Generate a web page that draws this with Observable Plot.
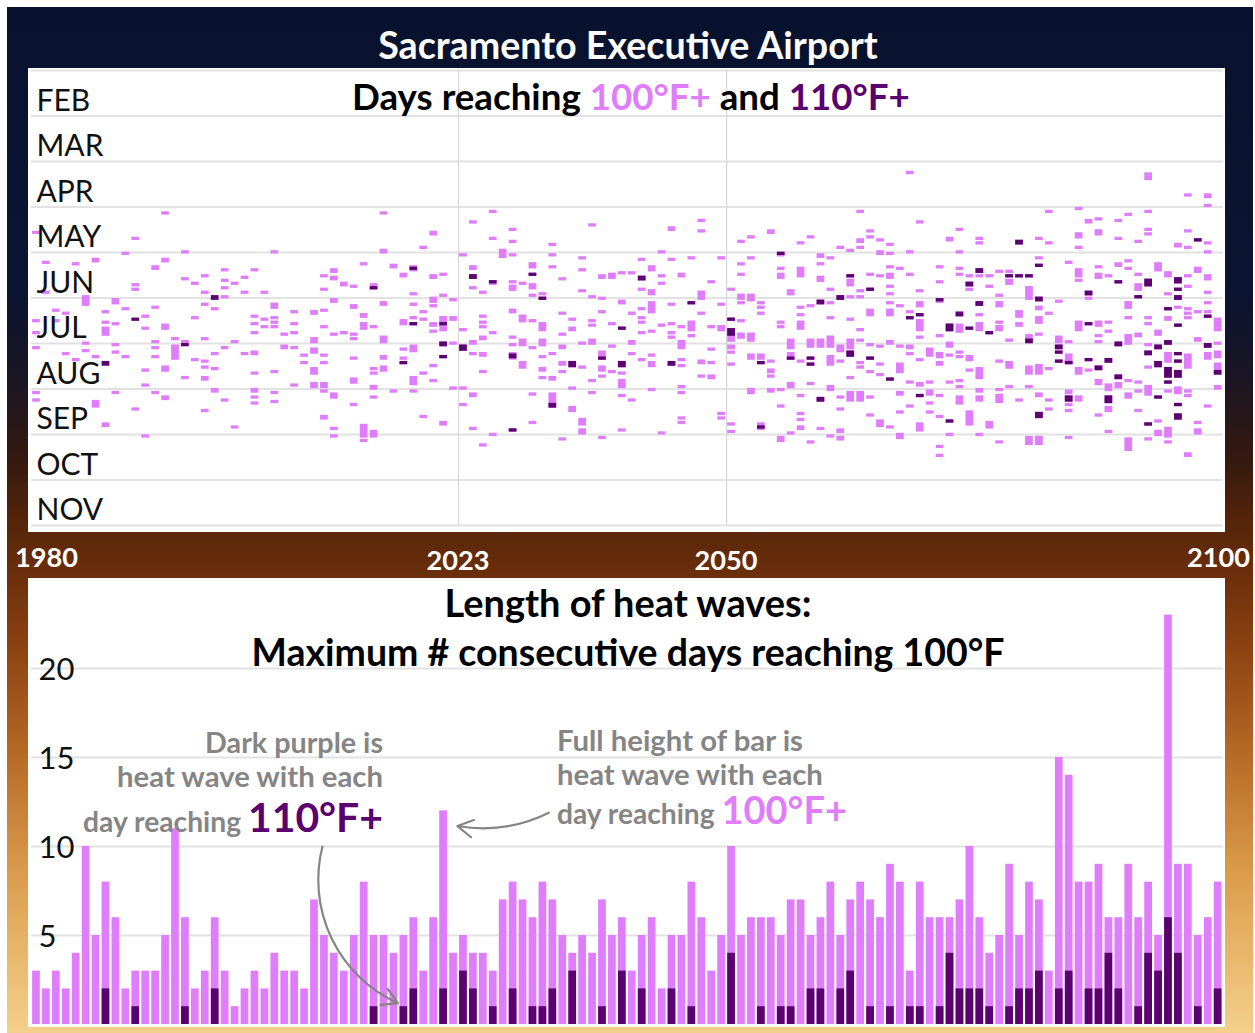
<!DOCTYPE html>
<html><head><meta charset="utf-8">
<script src="https://cdn.jsdelivr.net/npm/d3@7"></script>
<script src="https://cdn.jsdelivr.net/npm/@observablehq/plot@0.6"></script>
<style>
body{margin:0;background:#fff;}
#page{position:relative;width:1255px;height:1033px;overflow:hidden;background:#fff;}
#frame{position:absolute;left:7px;top:7px;width:1246px;height:1026px;
 background:linear-gradient(to bottom,#08112e 0%,#0b1430 28%,#1a1624 36%,#34190f 44%,#55240a 50%,#6e300b 56%,#8f4412 63%,#b86a26 73%,#dc9e4e 85%,#f4d08a 100%);}
#top{position:absolute;left:28px;top:68px;}
#bottom{position:absolute;left:28px;top:578px;}
.lbl{position:absolute;white-space:nowrap;line-height:0.85;}
.lbl span{line-height:0.7;}
</style></head>
<body><div id="page"><div id="frame"></div><div id="top"></div><div id="bottom"></div></div>
<script>
const FONT = "Lato, 'Open Sans', sans-serif";
const PINK = "#e07dfd", DARK = "#5b006f", GRAY = "#858585";

// ---------- bottom panel: longest run of consecutive days (1980..2099) ----------
const firstYear = 1980;
const maxRun100 = [3,2,3,2,4,10,5,8,6,2,3,3,3,5,11,6,2,3,6,3,1,2,3,2,4,3,3,2,7,5,
  4,3,5,8,5,5,4,5,6,3,6,12,4,5,4,4,3,7,8,7,6,8,7,5,4,5,4,7,5,6,
  3,5,6,2,5,5,8,6,3,5,10,5,6,6,6,5,7,7,5,6,8,5,7,8,7,6,9,8,3,8,
  6,6,6,7,10,6,4,5,9,5,8,7,3,15,14,8,8,9,6,6,9,6,8,5,23,9,9,5,6,8];
const maxRun110 = [0,0,0,0,0,0,0,2,0,0,1,0,0,0,0,1,0,0,2,0,0,0,0,0,0,0,0,0,0,0,
  0,0,0,0,1,0,0,1,2,0,0,2,0,3,2,0,1,0,2,0,1,1,2,0,3,0,0,1,0,3,
  0,2,0,0,2,0,1,0,0,0,4,0,0,1,0,1,1,0,2,2,0,2,3,0,1,0,1,0,1,1,
  0,1,4,2,2,2,1,0,1,2,2,3,0,2,3,0,2,2,4,2,0,1,4,3,6,4,0,1,0,2];

// ---------- top panel: [year, first day-of-year, number of days] reaching 100F+ ----------
const heat1980s = [[1980,140,1],[1980,199,1],[1980,207,1],[1980,217,1],[1980,247,1],[1980,252,1],
[1981,160,1],[1981,180,1],[1982,192,1],[1982,199,1],[1983,194,1],[1983,221,1],[1984,161,1],[1984,225,1],
[1985,183,6],[1985,214,1],[1985,219,1],[1986,158,2],[1986,223,1],[1986,253,4],
[1987,193,1],[1987,200,1],[1987,204,5],[1987,268,2],[1988,185,3],[1988,201,1],[1988,215,1],[1988,220,1],[1988,247,1],
[1989,154,1],[1989,191,1],[1989,223,1]];
const heat1990s = [[1990,144,1],[1990,175,1],[1990,178,1],[1990,258,1],
[1991,196,1],[1991,204,1],[1991,232,1],[1991,242,1],[1991,276,1],
[1992,163,2],[1992,190,1],[1992,213,1],[1992,217,1],[1992,223,1],[1992,247,1],
[1993,127,1],[1993,158,2],[1993,202,3],[1993,230,3],[1993,250,2],[1994,211,1],[1994,216,9],
[1995,153,1],[1995,171,1],[1995,213,1],[1995,237,1],[1996,174,1],[1996,197,1],[1996,225,1],
[1997,169,1],[1997,180,1],[1997,188,1],[1997,211,1],[1997,226,1],[1997,230,1],[1997,237,2],[1997,259,1],
[1998,191,1],[1998,221,1],[1998,231,1],[1998,245,2],
[1999,165,1],[1999,172,1],[1999,177,1],[1999,183,1],[1999,217,1],[1999,252,1]];
const heat2000s = [[2000,174,1],[2000,213,1],[2000,270,1],[2001,170,1],[2001,180,1],[2001,221,1],
[2002,165,1],[2002,196,1],[2002,201,1],[2002,207,1],[2002,220,2],[2002,234,1],[2002,245,2],[2002,250,1],[2002,254,1],
[2003,180,1],[2003,198,1],[2003,203,1],
[2004,153,1],[2004,188,3],[2004,197,1],[2004,200,1],[2004,203,1],[2004,233,1],[2004,247,1],[2004,253,1],
[2005,208,1],[2005,216,2],[2006,193,1],[2006,201,1],[2006,207,1],[2006,217,1],[2006,242,1],[2007,222,1],[2007,227,1],
[2008,193,2],[2008,211,3],[2008,218,3],[2008,231,4],[2008,241,3],
[2009,169,1],[2009,178,1],[2009,192,1],[2009,203,1],[2009,222,1],[2009,227,1],[2009,241,3],[2009,246,1],[2009,263,2]];
const heat2010s = [[2010,165,2],[2010,170,2],[2010,185,2],[2010,208,1],[2010,248,3],[2010,271,1],[2010,276,1],
[2011,174,2],[2011,207,1],
[2012,176,1],[2012,189,2],[2012,208,1],[2012,211,1],[2012,224,1],[2012,238,3],[2012,255,1],
[2013,161,1],[2013,195,2],[2013,201,2],[2013,204,1],[2013,269,8],[2013,279,1],
[2014,175,3],[2014,203,1],[2014,231,1],[2014,234,1],[2014,243,2],[2014,250,1],[2014,273,4],
[2015,127,1],[2015,152,2],[2015,187,2],[2015,210,2],[2015,213,1],[2015,223,2],[2015,230,3],
[2016,162,2],[2016,246,1],[2017,168,2],[2017,199,3],[2017,218,1],[2017,224,1],[2017,227,1],
[2018,163,3],[2018,181,1],[2018,188,1],[2018,197,1],[2018,201,1],[2018,216,4],[2018,237,3],[2018,241,1],[2018,246,1],
[2019,150,1],[2019,193,1],[2019,198,1],[2019,234,1],[2019,263,1]];
const heat2020s = [[2020,140,2],[2020,169,2],[2020,184,3],[2020,189,1],[2020,201,2],[2020,206,1],[2020,229,1],[2020,239,1],
[2021,168,1],[2021,182,1],[2021,197,9],[2021,214,2],[2021,223,1],[2021,267,2],
[2022,185,1],[2022,197,2],[2022,214,1],[2022,244,1],[2023,155,1],[2023,205,1],[2023,216,3],[2023,244,1],[2023,255,1],
[2024,133,1],[2024,163,2],[2024,169,2],[2024,177,1],[2024,213,2],[2024,221,1],[2024,248,2],[2024,271,1],
[2025,180,1],[2025,196,1],[2025,200,1],[2025,203,1],[2025,210,2],[2025,221,2],[2025,233,1],[2025,282,1],
[2026,126,1],[2026,144,1],[2026,173,2],[2026,207,1],[2026,275,1],[2027,152,5],
[2028,138,1],[2028,146,1],[2028,155,1],[2028,173,1],[2028,176,1],[2028,178,1],[2028,192,2],[2028,210,1],[2028,215,1],[2028,221,4],[2028,272,1],
[2029,174,1],[2029,196,2],[2029,199,1],[2029,212,4],[2029,227,4]];
const heat2030s = [[2030,161,3],[2030,168,1],[2030,175,3],[2030,182,1],[2030,199,1],[2030,217,1],[2030,248,1],[2030,267,1],
[2031,181,1],[2031,184,1],[2031,201,5],[2031,212,4],[2031,223,1],[2031,231,2],[2031,237,1],
[2032,148,1],[2032,155,1],[2032,163,1],[2032,221,1],[2032,237,2],[2032,248,6],[2032,255,2],
[2033,171,1],[2033,194,1],[2033,208,1],[2033,216,2],[2033,227,2],[2033,233,1],[2033,278,1],
[2034,198,1],[2034,204,2],[2034,227,3],[2034,244,1],[2034,257,1],[2034,259,1],
[2035,157,1],[2035,165,1],[2035,179,1],[2035,214,1],[2035,230,1],[2035,265,4],[2035,272,3],
[2036,135,1],[2036,183,1],[2036,199,1],[2036,202,1],[2036,212,3],[2036,239,1],[2036,247,1],
[2037,169,2],[2037,184,1],[2037,193,1],[2037,220,5],[2037,230,3],[2037,236,1],[2037,277,1],
[2038,168,3],[2038,201,1],[2038,216,1],[2038,233,1],
[2039,167,1],[2039,186,2],[2039,204,1],[2039,227,3],[2039,234,1],[2039,239,3],[2039,243,1],[2039,249,1],[2039,272,1]];
const heat2040s = [[2040,167,1],[2040,194,1],[2040,213,2],[2040,221,1],[2040,252,1],
[2041,158,1],[2041,170,2],[2041,178,1],[2041,191,1],[2041,197,1],[2041,200,1],[2041,207,1],[2041,225,1],
[2042,163,3],[2042,179,3],[2042,187,5],[2042,193,1],[2042,206,1],[2042,222,1],[2042,227,3],[2042,245,1],
[2043,153,1],[2043,169,1],[2043,174,1],[2043,202,1],[2043,274,1],
[2044,137,2],[2044,158,1],[2044,188,1],[2044,201,1],[2044,207,1],[2044,210,1],[2044,227,2],
[2045,168,2],[2045,203,1],[2045,213,5],[2045,225,1],[2045,229,1],[2045,243,1],[2045,247,1],[2045,264,1],[2045,267,1],
[2046,157,1],[2046,187,1],[2046,200,6],[2046,209,1],[2047,132,1],[2047,139,1],[2047,180,5],[2047,194,1],[2047,226,2],[2047,236,1],
[2048,173,1],[2048,203,1],[2048,218,1],[2048,227,1],[2048,236,2],[2049,157,1],[2049,188,1],[2049,203,3],[2049,261,1],[2049,264,1]];
const heat2050s = [[2050,178,1],[2050,198,1],[2050,205,4],[2050,210,3],[2050,216,2],[2050,220,1],[2050,228,1],[2050,268,1],[2050,273,1],
[2051,146,1],[2051,161,1],[2051,168,1],[2051,182,3],[2051,187,1],[2051,199,1],[2051,208,3],
[2052,143,1],[2052,157,1],[2052,182,4],[2052,208,5],[2052,222,3],[2052,245,1],[2052,247,1],
[2053,187,1],[2053,190,1],[2053,194,1],[2053,222,3],[2053,227,1],[2053,268,4],
[2054,139,2],[2054,226,1],[2054,232,2],[2054,236,1],[2054,245,2],
[2055,154,2],[2055,164,1],[2055,168,3],[2055,200,1],[2055,203,1],[2055,245,1],[2055,256,1],[2055,277,3],
[2056,179,1],[2056,181,1],[2056,212,6],[2056,221,4],[2056,241,3],[2056,274,1],
[2057,147,1],[2057,164,6],[2057,190,1],[2057,195,1],[2057,200,5],[2057,226,1],[2057,249,1],[2057,261,1],[2057,265,1],[2057,270,2],
[2058,143,1],[2058,189,1],[2058,212,5],[2058,224,1],[2058,228,1],[2058,241,1],[2058,280,1],
[2059,155,2],[2059,161,1],[2059,170,1],[2059,172,1],[2059,186,2],[2059,212,5],[2059,251,2],[2059,271,1]];
const heat2060s = [[2060,157,1],[2060,178,1],[2060,187,1],[2060,197,1],[2060,210,7],[2060,223,6],[2060,243,3],[2060,276,1],
[2061,150,1],[2061,183,2],[2061,216,4],[2061,226,1],[2061,250,1],[2061,258,1],[2061,272,2],[2061,277,2],
[2062,152,1],[2062,169,1],[2062,172,2],[2062,175,1],[2062,183,1],[2062,198,1],[2062,212,6],[2062,220,3],[2062,237,1],[2062,247,6],
[2063,126,1],[2063,145,2],[2063,150,1],[2063,179,1],[2063,183,1],[2063,205,1],[2063,212,1],[2063,227,1],[2063,230,1],[2063,247,6],
[2064,139,1],[2064,143,1],[2064,168,1],[2064,178,1],[2064,192,4],[2064,215,1],[2064,224,1],[2064,233,1],[2064,250,1],[2064,262,1],
[2065,145,1],[2065,153,2],[2065,169,1],[2065,216,1],[2065,228,1],[2065,235,1],[2065,266,4],
[2066,148,1],[2066,154,1],[2066,163,1],[2066,168,3],[2066,176,1],[2066,181,1],[2066,187,1],[2066,192,4],[2066,213,2],[2066,238,1],[2066,270,1],
[2067,164,1],[2067,189,1],[2067,216,1],[2067,228,6],[2067,247,2],[2067,260,1],[2067,275,3],
[2068,100,1],[2068,153,1],[2068,168,1],[2068,193,1],[2068,197,1],[2068,216,2],[2068,221,1],[2068,240,1],[2068,256,1],
[2069,133,1],[2069,179,1],[2069,187,3],[2069,195,1],[2069,199,7],[2069,210,1],[2069,225,1],[2069,241,2],[2069,249,1],[2069,268,5]];
const heat2070s = [[2070,218,5],[2070,240,1],[2070,246,3],[2070,254,1],[2070,260,1],
[2071,163,1],[2071,173,1],[2071,185,2],[2071,209,1],[2071,221,3],[2071,227,2],[2071,249,1],[2071,263,1],[2071,283,1],[2071,289,1],
[2072,144,2],[2072,202,4],[2072,214,3],[2072,222,1],[2072,240,1],[2072,266,1],[2072,275,1],
[2073,138,1],[2073,153,1],[2073,164,1],[2073,168,1],[2073,194,2],[2073,202,5],[2073,220,1],[2073,223,1],[2073,239,1],[2073,243,1],[2073,250,5],
[2074,169,1],[2074,174,2],[2074,178,1],[2074,204,1],[2074,223,3],[2074,232,1],[2074,260,9],
[2075,144,1],[2075,147,1],[2075,165,2],[2075,169,1],[2075,187,2],[2075,195,1],[2075,201,5],[2075,231,5],[2075,237,1],[2075,245,2],[2075,250,3],[2075,275,1],
[2076,169,1],[2076,176,1],[2076,207,1],[2076,267,4],
[2077,166,1],[2077,182,1],[2077,187,3],[2077,200,1],[2077,203,3],[2077,226,1],[2077,245,1],[2077,249,5],[2077,280,1],
[2078,166,1],[2078,169,1],[2078,172,3],[2078,212,1],[2078,227,4],[2078,243,1],
[2079,146,2],[2079,169,1],[2079,193,4],[2079,201,2],[2079,252,1]];
const heat2080s = [[2080,169,1],[2080,177,5],[2080,183,2],[2080,209,4],[2080,230,5],[2080,243,1],[2080,277,5],
[2081,144,1],[2081,157,1],[2081,162,1],[2081,184,2],[2081,190,2],[2081,197,4],[2081,208,1],[2081,229,6],[2081,248,2],[2081,261,3],[2081,277,5],
[2082,126,1],[2082,147,1],[2082,194,1],[2082,231,1],[2082,252,1],[2082,258,1],
[2083,186,1],[2083,210,4],[2083,216,2],[2083,220,1],[2083,226,1],
[2084,160,1],[2084,213,1],[2084,222,6],[2084,227,1],[2084,246,2],[2084,250,3],[2084,255,1],[2084,259,1],[2084,277,1],
[2085,124,1],[2085,141,3],[2085,150,1],[2085,165,5],[2085,172,1],[2085,200,6],[2085,231,4],[2085,250,3],
[2086,132,2],[2086,180,2],[2086,184,1],[2086,201,1],[2086,225,1],[2086,232,1],
[2087,131,1],[2087,139,3],[2087,163,1],[2087,168,3],[2087,200,3],[2087,209,1],[2087,213,1],[2087,230,2],[2087,239,3],[2087,262,1],
[2088,169,1],[2088,200,1],[2088,206,1],[2088,225,2],[2088,242,4],[2088,250,4],[2088,257,1],[2088,259,1],[2088,273,1],
[2089,132,1],[2089,144,1],[2089,161,2],[2089,173,1],[2089,214,2],[2089,236,2],[2089,241,3]];
const heat2090s = [[2090,128,1],[2090,159,1],[2090,164,1],[2090,187,4],[2090,197,1],[2090,209,6],[2090,239,1],[2090,248,3],[2090,278,8],
[2091,146,1],[2091,168,1],[2091,175,4],[2091,183,1],[2091,208,2],[2091,240,1],[2091,246,1],[2091,259,1],
[2092,101,1],[2092,103,2],[2092,126,1],[2092,138,1],[2092,141,1],[2092,172,4],[2092,197,1],[2092,201,1],[2092,215,1],[2092,220,2],[2092,230,1],[2092,243,6],[2092,268,1],[2092,278,1],
[2093,161,5],[2093,206,3],[2093,216,2],[2093,227,3],[2093,250,1],[2093,266,1],[2093,273,3],
[2094,167,3],[2094,181,1],[2094,191,1],[2094,197,2],[2094,213,2],[2094,221,6],[2094,231,6],[2094,240,1],[2094,246,1],[2094,271,6],[2094,280,1],
[2095,148,2],[2095,171,3],[2095,178,1],[2095,183,2],[2095,190,1],[2095,202,1],[2095,221,1],[2095,226,1],[2095,233,4],[2095,244,4],[2095,255,1],[2095,262,3],
[2096,115,1],[2096,139,1],[2096,150,1],[2096,169,1],[2096,176,1],[2096,191,1],[2096,194,1],[2096,197,1],[2096,222,9],[2096,246,1],[2096,249,1],[2096,288,2],
[2097,145,1],[2097,164,3],[2097,193,1],[2097,211,2],[2097,267,1],[2097,272,3],
[2098,115,2],[2098,122,1],[2098,147,1],[2098,153,1],[2098,169,3],[2098,180,1],[2098,187,1],[2098,193,1],[2098,196,1],[2098,215,2],[2098,221,4],[2098,256,1],
[2099,198,1],[2099,200,6],[2099,214,1],[2099,220,4],[2099,228,6],[2099,243,2]];
// days reaching 110F+
const heat110 = [[1987,227,2],[1990,198,1],[1995,215,1],[1998,183,2],
[2014,177,1],[2017,227,1],[2018,164,1],[2018,201,1],[2021,201,1],[2021,214,2],[2021,223,1],[2023,216,3],[2024,169,2],[2026,173,1],
[2028,222,2],[2028,272,1],[2030,168,1],[2031,184,1],[2032,255,2],[2034,227,3],[2037,224,1],[2039,204,1],[2039,227,3],
[2041,170,2],[2044,227,2],[2046,187,1],[2050,198,1],[2050,205,4],[2053,227,1],[2053,270,1],[2055,154,1],[2056,224,1],
[2058,224,1],[2058,228,1],[2059,186,2],[2059,251,2],[2061,183,2],[2062,169,1],[2062,220,3],[2064,178,1],[2064,224,1],
[2066,238,1],[2068,197,1],[2069,195,1],[2069,249,1],
[2071,185,1],[2072,202,4],[2072,266,1],[2073,194,2],[2074,174,2],[2074,204,1],[2075,165,2],[2075,187,2],[2076,207,1],
[2078,169,1],[2079,146,2],[2079,169,1],[2080,169,1],[2080,212,2],[2081,162,1],[2081,184,2],[2081,261,3],
[2083,216,2],[2083,220,1],[2083,226,1],[2084,227,1],[2084,250,3],[2086,180,2],[2086,201,1],[2086,225,1],[2087,230,2],
[2088,225,2],[2088,250,4],[2089,173,1],[2089,214,2],[2089,236,2],[2091,183,1],[2092,172,4],[2092,220,2],[2092,268,1],
[2093,216,2],[2093,227,3],[2093,250,1],[2094,191,1],[2094,213,2],[2094,231,6],[2094,240,1],
[2095,171,3],[2095,178,1],[2095,183,2],[2095,202,1],[2095,221,1],[2095,226,1],[2095,233,4],[2095,255,1],[2095,262,3],
[2097,145,1],[2098,196,1],[2098,215,2],[2099,233,2]];

const monthNames = ["FEB","MAR","APR","MAY","JUN","JUL","AUG","SEP","OCT","NOV"];
const monthGrid = d3.range(11).map(k => 32 + k * 30.4);   // equally spaced month lines (day-of-year)
const yearMarks = [2023, 2050];
const yearLabels = [1980, 2023, 2050, 2100];
const yTicks = [5, 10, 15, 20];

const hot100 = [].concat(heat1980s, heat1990s, heat2000s, heat2010s, heat2020s, heat2030s, heat2040s, heat2050s, heat2060s, heat2070s, heat2080s, heat2090s);

// ---------------- top chart ----------------
const dash = {x1: d => d[0], x2: d => d[0] + 1, y1: d => d[1], y2: d => d[1] + d[2],
  insetLeft: 1.1, insetRight: 1.1, insetTop: -0.9, insetBottom: -0.9};
const topPlot = Plot.plot({
  width: 1197, height: 464,
  marginLeft: 3, marginRight: 2.4, marginTop: 2, marginBottom: 7,
  x: {domain: [1980, 2100], axis: null},
  y: {domain: [32, 336], reverse: true, axis: null},
  style: {background: "white", overflow: "visible", fontFamily: FONT},
  marks: [
    Plot.ruleY(monthGrid, {stroke: "#e2e2e2", strokeWidth: 2}),
    Plot.ruleX(yearMarks, {stroke: "#d6d6d6", strokeWidth: 1.2}),
    Plot.rect(hot100, {...dash, fill: PINK}),
    Plot.rect(heat110, {...dash, fill: DARK}),
    Plot.text(monthNames, {x: 1980, y: (d, i) => monthGrid[i] + 20.5, text: d => d, textAnchor: "start",
      dx: 5, fontSize: 30, fill: "#111", fontFamily: FONT})
  ]
});
document.getElementById("top").appendChild(topPlot);

// ---------------- bottom chart ----------------
const bars = maxRun100.map((v, i) => ({year: firstYear + i, v100: v, v110: maxRun110[i]}));
const bottomPlot = Plot.plot({
  width: 1197, height: 449,
  marginLeft: 3, marginRight: 2.4, marginTop: 18.8, marginBottom: 3,
  x: {domain: [1980, 2100], axis: null},
  y: {domain: [0, 24], axis: null},
  style: {background: "white", overflow: "visible", fontFamily: FONT},
  marks: [
    Plot.ruleY(yTicks, {stroke: "#e2e2e2", strokeWidth: 2}),
    Plot.rectY(bars, {x1: "year", x2: d => d.year + 1, y: "v100", fill: PINK, insetLeft: 1.1, insetRight: 1.1}),
    Plot.rectY(bars.filter(d => d.v110 > 0), {x1: "year", x2: d => d.year + 1, y: "v110", fill: DARK, insetLeft: 1.1, insetRight: 1.1}),
    Plot.text(yTicks, {x: 1980, y: d => d, text: d => String(d), textAnchor: "start", dx: 7, dy: 2, fontSize: 31, fill: "#111", fontFamily: FONT}),
    Plot.arrow([{x1: 2032.1, y1: 11.9, x2: 2022.9, y2: 11.15}], {x1: "x1", y1: "y1", x2: "x2", y2: "y2", bend: 18, stroke: GRAY, strokeWidth: 2.2, headLength: 12}),
    Plot.arrow([{x1: 2009.3, y1: 10.0, x2: 2016.9, y2: 1.2}], {x1: "x1", y1: "y1", x2: "x2", y2: "y2", bend: -40, stroke: GRAY, strokeWidth: 2.2, headLength: 12})
  ]
});
document.getElementById("bottom").appendChild(bottomPlot);

// ---------------- text ----------------
const page = document.getElementById("page");
function label(html, o) {
  const el = document.createElement("div");
  el.className = "lbl";
  el.innerHTML = html;
  el.style.fontFamily = FONT;
  el.style.fontWeight = o.weight || 700;
  el.style.color = o.color || "#000";
  el.style.fontSize = o.size + "px";
  page.appendChild(el);
  let r = el.getBoundingClientRect();
  if (o.width) { el.style.fontSize = (o.size * o.width / r.width) + "px"; r = el.getBoundingClientRect(); }
  const a = o.anchor || "middle";
  el.style.left = (a === "middle" ? o.x - r.width / 2 : a === "end" ? o.x - r.width : o.x) + "px";
  el.style.top = (o.y - r.height / 2) + "px";
  return el;
}
label("Sacramento Executive Airport", {x: 628, y: 45, size: 30, width: 500, color: "#fff"});
label(`Days reaching <span style="color:${PINK}">100°F+</span> and <span style="color:${DARK}">110°F+</span>`, {x: 631, y: 97, size: 32, width: 558});
const xs = topPlot.scale("x");
yearLabels.forEach((yr, i) => {
  const px = 28 + xs.apply(yr);
  label(String(yr), {x: i === 0 ? 15 : i === 3 ? 1250 : px, y: i === 0 || i === 3 ? 557 : 560, size: 26, width: 63,
    color: "#fff", anchor: i === 0 ? "start" : i === 3 ? "end" : "middle"});
});
label("Length of heat waves:", {x: 628, y: 603, size: 30, width: 367});
label("Maximum # consecutive days reaching 100°F", {x: 628, y: 652, size: 30, width: 753});
label("Dark purple is", {x: 383, y: 742, size: 24, width: 178, color: GRAY, anchor: "end"});
label("heat wave with each", {x: 383, y: 776, size: 24, width: 266, color: GRAY, anchor: "end"});
label(`day reaching <span style="color:${DARK};font-size:1.45em">110°F+</span>`, {x: 383, y: 818, size: 24, width: 300, color: GRAY, anchor: "end"});
label("Full height of bar is", {x: 557, y: 740, size: 24, width: 246, color: GRAY, anchor: "start"});
label("heat wave with each", {x: 557, y: 774, size: 24, width: 266, color: GRAY, anchor: "start"});
label(`day reaching <span style="color:${PINK};font-size:1.35em">100°F+</span>`, {x: 557, y: 811, size: 24, width: 290, color: GRAY, anchor: "start"});
</script></body></html>
